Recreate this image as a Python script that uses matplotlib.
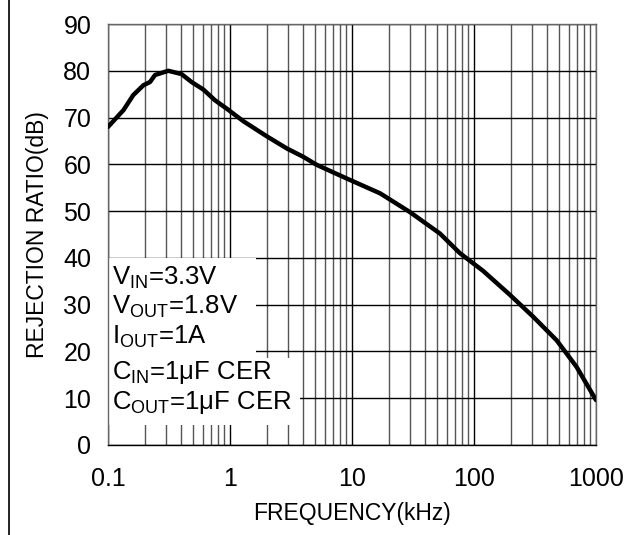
import numpy as np
import matplotlib.pyplot as plt
from matplotlib.lines import Line2D
from matplotlib.patches import Rectangle

plt.rcParams['font.family'] = ['Liberation Sans', 'DejaVu Sans']
plt.rcParams['mathtext.fontset'] = 'custom'
plt.rcParams['mathtext.rm'] = 'Liberation Sans'
plt.rcParams['mathtext.it'] = 'Liberation Sans'

# dữ liệu
freq_khz = [0.1, 0.134, 0.161, 0.195, 0.221, 0.243, 0.312, 0.40, 0.484, 0.604,
            0.753, 0.94, 1.29, 2.0, 2.92, 3.99, 5.13, 9.0, 17.0, 29.8, 52.6,
            76.7, 119, 197, 306, 475, 693, 1000]
rejection_db = [68.0, 71.6, 74.8, 76.9, 77.6, 79.1, 80.0, 79.3, 77.6, 76.0,
                73.7, 71.9, 69.2, 66.0, 63.4, 61.6, 59.9, 57.0, 53.8, 49.8, 45.2,
                41.0, 37.2, 32.1, 27.4, 22.4, 16.7, 9.6]
x_ticks = [0.1, 1, 10, 100, 1000]
x_tick_labels = ["0.1", "1", "10", "100", "1000"]
y_ticks = list(range(0, 91, 10))
notes = [r"V$_{\mathrm{IN}}$=3.3V",
         r"V$_{\mathrm{OUT}}$=1.8V",
         r"I$_{\mathrm{OUT}}$=1A",
         r"C$_{\mathrm{IN}}$=1μF CER",
         r"C$_{\mathrm{OUT}}$=1μF CER"]

fig = plt.figure(figsize=(6.36, 5.35), dpi=100)
ax = fig.add_axes([108/636, 90/535, 488/636, 421/535])

ax.set_xscale("log")
ax.set_xlim(0.1, 1000)
ax.set_ylim(0, 90)

# lưới
ax.set_xticks(x_ticks)
ax.set_xticklabels(x_tick_labels)
ax.set_yticks(y_ticks)
ax.grid(True, which="major", color="black", lw=1.0, zorder=1)
ax.grid(True, which="minor", axis="x", color="#555555", lw=1.0, zorder=1)
ax.tick_params(which="both", length=0, labelsize=18)
ax.tick_params(axis="x", pad=16)
ax.tick_params(axis="y", pad=12)
for s in ax.spines.values():
    s.set_color("#666666")
    s.set_linewidth(1.0)
ax.spines["bottom"].set_color("black")

# vùng trắng cho chú thích
ax.add_patch(Rectangle((0, 0.202), 0.303, 0.242, transform=ax.transAxes,
                       facecolor="white", edgecolor="none", zorder=2))
ax.add_patch(Rectangle((0, 0.0475), 0.393, 0.16, transform=ax.transAxes,
                       facecolor="white", edgecolor="none", zorder=2))

ax.plot(freq_khz, rejection_db, color="black", lw=3.2, zorder=4,
        solid_capstyle="round", solid_joinstyle="round")

note_y = [0.397, 0.328, 0.256, 0.172, 0.100]
for t, yy in zip(notes, note_y):
    ax.text(0.008, yy, t, transform=ax.transAxes, fontsize=18.5,
            va="center", ha="left", zorder=5)

ax.set_xlabel("FREQUENCY(kHz)", fontsize=16.5, labelpad=8)
ax.set_ylabel("REJECTION RATIO(dB)", fontsize=16.5, labelpad=10)

fig.add_artist(Line2D([9/636, 9/636], [0, 1], color="black", lw=1.2,
                      transform=fig.transFigure))

fig.savefig("out.png", dpi=100)
